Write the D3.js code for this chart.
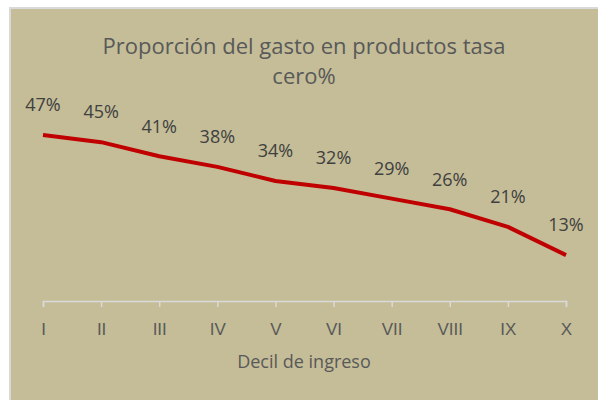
<!DOCTYPE html>
<html>
<head>
<meta charset="utf-8">
<script src="https://cdn.jsdelivr.net/npm/d3@7"></script>
<style>
  body { margin: 0; background: #fff; }
  svg { display: block; font-family: "Open Sans", "Noto Sans", sans-serif; }
</style>
</head>
<body>
<svg width="598" height="400"></svg>
<script>
// datos
var deciles = ["I", "II", "III", "IV", "V", "VI", "VII", "VIII", "IX", "X"];
var proporcion = [0.47, 0.45, 0.41, 0.38, 0.34, 0.32, 0.29, 0.26, 0.21, 0.13];
var titulo = ["Proporción del gasto en productos tasa", "cero%"];
var tituloEje = "Decil de ingreso";

var svg = d3.select("svg");

// fondo y borde
svg.append("rect")
    .attr("x", 10).attr("y", 8)
    .attr("width", 600).attr("height", 400)
    .attr("fill", "#C4BD97")
    .attr("stroke", "#D9D9D9")
    .attr("stroke-width", 2);

var x = d3.scalePoint()
    .domain(deciles)
    .range([43, 566]);

var y = d3.scaleLinear()
    .domain([0, 0.5])
    .range([301, 124.5]);

// eje x
var xAxis = svg.append("g")
    .attr("transform", "translate(0,301)")
    .call(d3.axisBottom(x).tickSize(6).tickPadding(16));
xAxis.select(".domain").attr("stroke", "#D9D9D9").attr("stroke-width", 1.5);
xAxis.selectAll(".tick line").attr("stroke", "#D9D9D9").attr("stroke-width", 1.5);
xAxis.selectAll(".tick text")
    .attr("fill", "#595959")
    .style("font-size", "17px");

// linea
var line = d3.line()
    .x(function (d, i) { return x(deciles[i]); })
    .y(function (d) { return y(d); });

svg.append("path")
    .datum(proporcion)
    .attr("d", line)
    .attr("fill", "none")
    .attr("stroke", "#C00000")
    .attr("stroke-width", 4)
    .attr("stroke-linejoin", "round");

// etiquetas
svg.selectAll(".etiqueta")
    .data(proporcion)
    .enter()
    .append("text")
    .attr("class", "etiqueta")
    .attr("x", function (d, i) { return x(deciles[i]); })
    .attr("y", function (d) { return y(d) - 30; })
    .attr("dy", "0.35em")
    .attr("text-anchor", "middle")
    .attr("fill", "#404040")
    .style("font-size", "18px")
    .text(d3.format(".0%"));

// titulo
svg.selectAll(".titulo")
    .data(titulo)
    .enter()
    .append("text")
    .attr("class", "titulo")
    .attr("x", 304)
    .attr("y", function (d, i) { return 46 + i * 30; })
    .attr("dy", "0.35em")
    .attr("text-anchor", "middle")
    .attr("fill", "#595959")
    .style("font-size", "22px")
    .text(function (d) { return d; });

svg.append("text")
    .attr("x", 304)
    .attr("y", 362)
    .attr("dy", "0.35em")
    .attr("text-anchor", "middle")
    .attr("fill", "#595959")
    .style("font-size", "18px")
    .text(tituloEje);
</script>
</body>
</html>
